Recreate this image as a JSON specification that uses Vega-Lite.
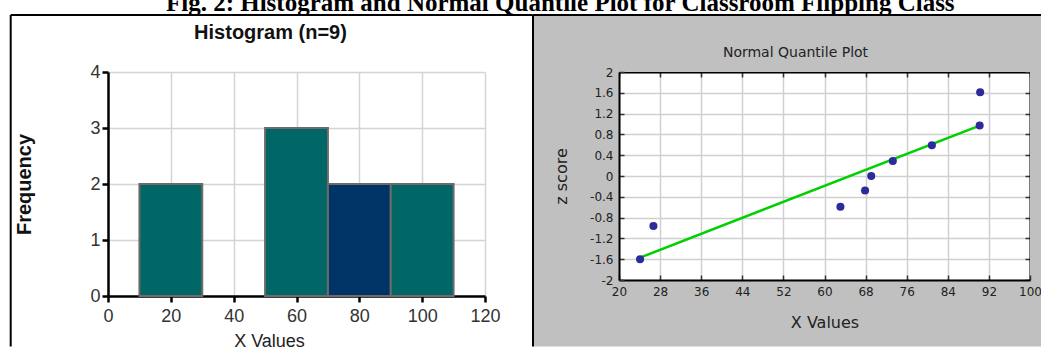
{
  "$schema": "https://vega.github.io/schema/vega-lite/v6.json",
  "background": "white",
  "padding": {"left": 9, "top": -10, "right": 0, "bottom": 0},
  "bounds": "flush",
  "spacing": 134,
  "title": {
    "text": "Fig. 2: Histogram and Normal Quantile Plot for Classroom Flipping Class",
    "font": "Liberation Serif",
    "fontSize": 25,
    "fontWeight": "bold",
    "color": "black",
    "anchor": "middle",
    "dx": 34,
    "offset": -2
  },
  "config": {
    "font": "Liberation Sans",
    "view": {"stroke": null}
  },
  "datasets": {
    "bins": [
      {"bin_start": 10, "bin_end": 30, "count": 2, "group": "other"},
      {"bin_start": 50, "bin_end": 70, "count": 3, "group": "other"},
      {"bin_start": 70, "bin_end": 90, "count": 2, "group": "selected"},
      {"bin_start": 90, "bin_end": 110, "count": 2, "group": "other"}
    ],
    "scores": [
      {"x": 24.1, "z": -1.6},
      {"x": 26.7, "z": -0.96},
      {"x": 63.1, "z": -0.59},
      {"x": 67.9, "z": -0.28},
      {"x": 69.1, "z": 0},
      {"x": 73.3, "z": 0.29},
      {"x": 80.9, "z": 0.59},
      {"x": 90.2, "z": 0.97},
      {"x": 90.3, "z": 1.61}
    ],
    "fit": [
      {"x": 24.1, "z": -1.57},
      {"x": 90.2, "z": 0.97}
    ]
  },
  "hconcat": [
    {
      "width": 377,
      "height": 224,
      "title": {"text": "Histogram (n=9)", "fontSize": 20, "fontWeight": "bold", "color": "#111", "anchor": "middle", "dx": -26, "offset": -29},
      "layer": [
        {
          "data": {"name": "bins"},
          "mark": {"type": "rect", "stroke": "#6b6b6b", "strokeWidth": 2},
          "encoding": {
            "x": {"field": "bin_start", "type": "quantitative",
              "scale": {"domain": [0, 120], "nice": false, "zero": false},
              "axis": {"values": [0, 20, 40, 60, 80, 100, 120], "title": "X Values", "titleFontSize": 18, "titleFontWeight": "normal", "titleColor": "#222", "titlePadding": 7, "titleX": 161,
                "labelFontSize": 18, "labelColor": "#333", "labelPadding": 5, "labelFlush": false, "labelOverlap": false,
                "grid": true, "gridColor": "#d4d4d4", "gridWidth": 1.5,
                "domainColor": "black", "domainWidth": 2.5, "tickColor": "black", "tickWidth": 2.5, "tickSize": 6}},
            "x2": {"field": "bin_end"},
            "y": {"field": "count", "type": "quantitative",
              "scale": {"domain": [0, 4], "nice": false},
              "axis": {"values": [0, 1, 2, 3, 4], "labelExpr": "'' + datum.value", "title": "Frequency", "titleFontSize": 20, "titleFontWeight": "bold", "titleColor": "#111", "titlePadding": 55,
                "labelFontSize": 18, "labelColor": "#333", "labelPadding": 2, "labelFlush": false, "labelOverlap": false,
                "grid": true, "gridColor": "#d4d4d4", "gridWidth": 1.5,
                "domainColor": "black", "domainWidth": 2.5, "tickColor": "black", "tickWidth": 2.5, "tickSize": 6}},
            "y2": {"datum": 0},
            "fill": {"field": "group", "type": "nominal", "scale": {"domain": ["other", "selected"], "range": ["#006666", "#003366"]}, "legend": null}
          }
        },
        {
          "data": {"values": [{}]},
          "mark": {"type": "rule", "color": "black", "strokeWidth": 2},
          "encoding": {
            "x": {"datum": -30.97, "type": "quantitative", "scale": {"domain": [0, 120], "nice": false, "zero": false}},
            "y": {"datum": 5.018, "type": "quantitative", "scale": {"domain": [0, 4], "nice": false}},
            "y2": {"datum": -0.9}
          }
        },
        {
          "data": {"values": [{}]},
          "mark": {"type": "rule", "color": "black", "strokeWidth": 2},
          "encoding": {
            "x": {"datum": -30.97, "type": "quantitative", "scale": {"domain": [0, 120], "nice": false, "zero": false}},
            "x2": {"datum": 135.18},
            "y": {"datum": 5.018, "type": "quantitative", "scale": {"domain": [0, 4], "nice": false}}
          }
        }
      ]
    },
    {
      "width": 411,
      "height": 208,
      "title": {"text": "Normal Quantile Plot", "font": "DejaVu Sans", "fontSize": 14, "fontWeight": "normal", "color": "#222", "anchor": "middle", "dx": -29, "offset": -46},
      "resolve": {"axis": {"x": "independent", "y": "independent"}},
      "layer": [
        {
          "data": {"values": [{}]},
          "mark": {"type": "rect", "color": "#c0c0c0"},
          "encoding": {
            "x": {"datum": 3.26, "type": "quantitative", "scale": {"domain": [20, 100], "nice": false, "zero": false}, "axis": null},
            "x2": {"datum": 20},
            "y": {"datum": -3.28, "type": "quantitative", "scale": {"domain": [-2, 2], "nice": false}, "axis": null},
            "y2": {"datum": 3.096}
          }
        },
        {
          "data": {"values": [{}]},
          "mark": {"type": "rect", "color": "#c0c0c0"},
          "encoding": {
            "x": {"datum": 100, "type": "quantitative", "scale": {"domain": [20, 100], "nice": false, "zero": false}, "axis": null},
            "x2": {"datum": 102.3},
            "y": {"datum": -3.28, "type": "quantitative", "scale": {"domain": [-2, 2], "nice": false}, "axis": null},
            "y2": {"datum": 3.096}
          }
        },
        {
          "data": {"values": [{}]},
          "mark": {"type": "rect", "color": "#c0c0c0"},
          "encoding": {
            "x": {"datum": 20, "type": "quantitative", "scale": {"domain": [20, 100], "nice": false, "zero": false}, "axis": null},
            "x2": {"datum": 100},
            "y": {"datum": 2, "type": "quantitative", "scale": {"domain": [-2, 2], "nice": false}, "axis": null},
            "y2": {"datum": 3.096}
          }
        },
        {
          "data": {"values": [{}]},
          "mark": {"type": "rect", "color": "#c0c0c0"},
          "encoding": {
            "x": {"datum": 20, "type": "quantitative", "scale": {"domain": [20, 100], "nice": false, "zero": false}, "axis": null},
            "x2": {"datum": 100},
            "y": {"datum": -3.28, "type": "quantitative", "scale": {"domain": [-2, 2], "nice": false}, "axis": null},
            "y2": {"datum": -2}
          }
        },
        {
          "data": {"values": [{}]},
          "mark": {"type": "rule", "color": "black", "strokeWidth": 2},
          "encoding": {
            "x": {"datum": 3.26, "type": "quantitative", "scale": {"domain": [20, 100], "nice": false, "zero": false}, "axis": null},
            "y": {"datum": -3.28, "type": "quantitative", "scale": {"domain": [-2, 2], "nice": false}, "axis": null},
            "y2": {"datum": 3.096}
          }
        },
        {
          "data": {"values": [{}]},
          "mark": {"type": "rule", "color": "black", "strokeWidth": 2},
          "encoding": {
            "x": {"datum": 3.26, "type": "quantitative", "scale": {"domain": [20, 100], "nice": false, "zero": false}, "axis": null},
            "x2": {"datum": 102.3},
            "y": {"datum": 3.096, "type": "quantitative", "scale": {"domain": [-2, 2], "nice": false}, "axis": null}
          }
        },
        {
          "data": {"name": "fit"},
          "mark": {"type": "line", "color": "#00d000", "strokeWidth": 2.5},
          "encoding": {
            "x": {"field": "x", "type": "quantitative", "scale": {"domain": [20, 100], "nice": false, "zero": false},
              "axis": {"orient": "top", "values": [20, 28, 36, 44, 52, 60, 68, 76, 84, 92, 100], "labels": false, "title": null,
                "grid": true, "gridColor": "#d0d0d0", "gridWidth": 1.5,
                "domain": true, "domainColor": "black", "domainWidth": 2, "ticks": true, "tickColor": "#333", "tickWidth": 1.5, "tickSize": -5, "zindex": 0}},
            "y": {"field": "z", "type": "quantitative", "scale": {"domain": [-2, 2], "nice": false},
              "axis": {"orient": "right", "values": [-2, -1.6, -1.2, -0.8, -0.4, 0, 0.4, 0.8, 1.2, 1.6, 2], "labels": false, "title": null,
                "grid": true, "gridColor": "#d0d0d0", "gridWidth": 1.5,
                "domain": true, "domainColor": "black", "domainWidth": 2, "ticks": true, "tickColor": "#333", "tickWidth": 1.5, "tickSize": -5, "zindex": 0}}
          }
        },
        {
          "data": {"name": "scores"},
          "mark": {"type": "circle", "size": 65, "color": "#2b2b9c", "opacity": 1},
          "encoding": {
            "x": {"field": "x", "type": "quantitative", "scale": {"domain": [20, 100], "nice": false, "zero": false},
              "axis": {"orient": "bottom", "values": [20, 28, 36, 44, 52, 60, 68, 76, 84, 92, 100], "title": "X Values", "titleFont": "DejaVu Sans", "titleFontSize": 16, "titleFontWeight": "normal", "titleColor": "#222", "titlePadding": 17,
                "labelFont": "DejaVu Sans", "labelFontSize": 12, "labelColor": "#222", "labelPadding": 11, "labelFlush": false, "labelOverlap": false,
                "grid": false, "domain": true, "domainColor": "black", "domainWidth": 2, "ticks": true, "tickColor": "#333", "tickWidth": 1.5, "tickSize": -5, "zindex": 1}},
            "y": {"field": "z", "type": "quantitative", "scale": {"domain": [-2, 2], "nice": false},
              "axis": {"orient": "left", "values": [-2, -1.6, -1.2, -0.8, -0.4, 0, 0.4, 0.8, 1.2, 1.6, 2], "labelExpr": "'' + datum.value", "title": "z score", "titleFont": "DejaVu Sans", "titleFontSize": 16, "titleFontWeight": "normal", "titleColor": "#222", "titlePadding": 20,
                "labelFont": "DejaVu Sans", "labelFontSize": 12, "labelColor": "#222", "labelPadding": 11, "labelFlush": false, "labelOverlap": false,
                "grid": false, "domain": true, "domainColor": "black", "domainWidth": 2, "ticks": true, "tickColor": "#333", "tickWidth": 1.5, "tickSize": -5, "zindex": 1}}
          }
        }
      ]
    }
  ]
}
